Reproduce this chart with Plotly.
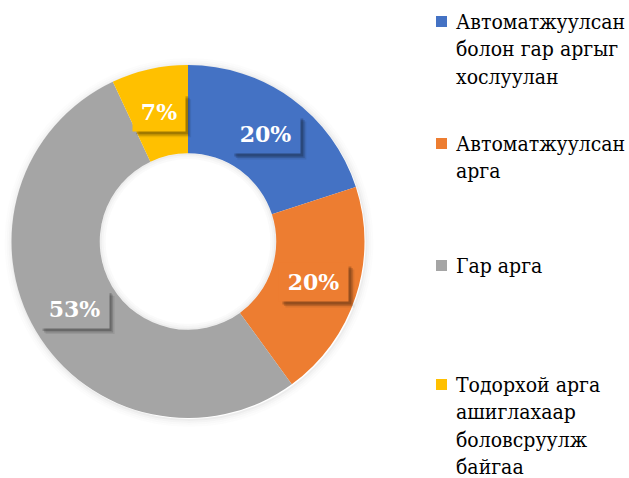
import math
import plotly.graph_objects as go

W, H = 629, 478

labels = [
    "Автоматжуулсан болон гар аргыг хослуулан",
    "Автоматжуулсан арга",
    "Гар арга",
    "Тодорхой арга ашиглахаар боловсруулж байгаа",
]
legend_lines = [
    ["Автоматжуулсан", "болон гар аргыг", "хослуулан"],
    ["Автоматжуулсан", "арга"],
    ["Гар арга"],
    ["Тодорхой арга", "ашиглахаар", "боловсруулж", "байгаа"],
]
values = [20, 20, 53, 7]
colors = ["#4472C4", "#ED7D31", "#A5A5A5", "#FFC000"]

FONT = "'DejaVu Serif Condensed', 'DejaVu Serif', serif"
FONT_LBL = "'DejaVu Serif', serif"

# geometry (pixels)
cx, cy, R = 188.0, 241.5, 176.5
HOLE = 0.5
r_in = R * HOLE


def px(x):
    return x / W


def py(y):
    return 1 - y / H


fig = go.Figure()
fig.add_trace(go.Pie(
    labels=labels,
    values=values,
    hole=HOLE,
    sort=False,
    direction="clockwise",
    rotation=0,
    marker=dict(colors=colors, line=dict(width=0)),
    textinfo="none",
    hoverinfo="label+percent",
    showlegend=False,
    domain=dict(x=[px(cx - R), px(cx + R)], y=[py(cy + R), py(cy - R)]),
))

shapes = []
annotations = []

# soft shadow around the ring (outer edge)
for i, a in enumerate([0.07, 0.045, 0.025, 0.012]):
    rr = R + 1 + 2 * i
    shapes.append(dict(type="circle", xref="paper", yref="paper", layer="below",
                       x0=px(cx - rr + 1), x1=px(cx + rr + 1),
                       y0=py(cy + rr + 1), y1=py(cy - rr + 1),
                       fillcolor="rgba(0,0,0,0)", line=dict(width=2, color=f"rgba(0,0,0,{a})")))
# inner edge shadow
for i, a in enumerate([0.07, 0.04, 0.02]):
    rr = r_in - 1 - 2 * i
    shapes.append(dict(type="circle", xref="paper", yref="paper", layer="above",
                       x0=px(cx - rr), x1=px(cx + rr),
                       y0=py(cy + rr), y1=py(cy - rr),
                       fillcolor="rgba(0,0,0,0)", line=dict(width=2, color=f"rgba(0,0,0,{a})")))

# data labels
total = sum(values)
cum = 0
rl = (R + r_in) / 2
for v, c in zip(values, colors):
    mid = (cum + v / 2) / total * 2 * math.pi
    cum += v
    lx = cx + rl * math.sin(mid)
    ly = cy - rl * math.cos(mid)
    txt = f"{round(v / total * 100)}%"
    bw = 17 * len(txt) + 18
    bh = 38
    # blurred-looking drop shadow made of stacked translucent rectangles
    for sh, op in [(6, 0.08), (4.5, 0.14), (3, 0.2)]:
        shapes.append(dict(type="rect", xref="paper", yref="paper", layer="above",
                           x0=px(lx - bw / 2 + sh), x1=px(lx + bw / 2 + sh),
                           y0=py(ly + bh / 2 + sh), y1=py(ly - bh / 2 + sh),
                           fillcolor=f"rgba(0,0,0,{op})", line=dict(width=0)))
    annotations.append(dict(x=px(lx), y=py(ly), xref="paper", yref="paper",
                            xanchor="center", yanchor="middle",
                            showarrow=False, text=f"<b>{txt}</b>", width=bw, height=bh,
                            font=dict(family=FONT_LBL, size=22, color="white"),
                            bgcolor=c, borderpad=0))

# legend
item_tops = [22, 144, 266, 385]
line_h = 27.3
for lines, c, top in zip(legend_lines, colors, item_tops):
    shapes.append(dict(type="rect", xref="paper", yref="paper",
                       x0=px(436), x1=px(447), y0=py(top + 5), y1=py(top - 6),
                       fillcolor=c, line=dict(width=0)))
    for k, t in enumerate(lines):
        annotations.append(dict(x=px(454), y=py(top + k * line_h), xref="paper", yref="paper",
                                xanchor="left", yanchor="middle", showarrow=False,
                                text=t, font=dict(family=FONT, size=21, color="black")))

fig.update_layout(
    width=W, height=H,
    margin=dict(l=0, r=0, t=0, b=0),
    paper_bgcolor="white", plot_bgcolor="white",
    font=dict(family=FONT_LBL),
    shapes=shapes, annotations=annotations,
)

fig.write_html("out.html", config={"displayModeBar": False},
               post_script="document.body.style.margin='0px';")
